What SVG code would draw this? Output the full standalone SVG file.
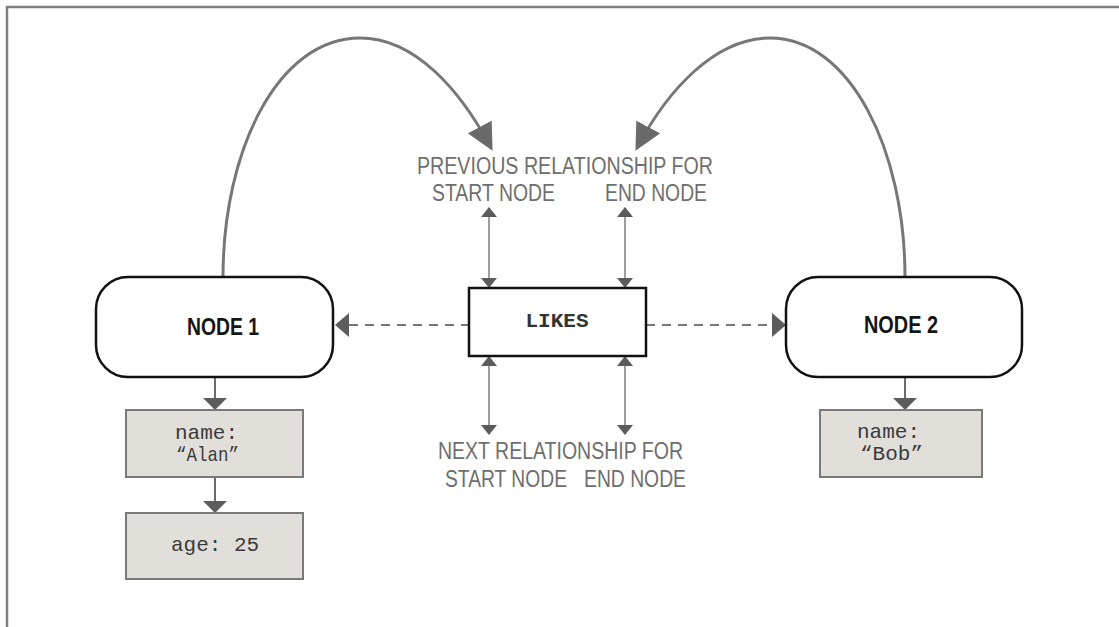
<svg xmlns="http://www.w3.org/2000/svg" width="1119" height="627" viewBox="0 0 1119 627">
<style>
.frame{fill:none;stroke:#808080;stroke-width:2.5}
.node{fill:#fff;stroke:#111;stroke-width:2.5}
.prop{fill:#e2dfdb;stroke:#7a7a7a;stroke-width:2}
.rel{fill:#fff;stroke:#111;stroke-width:2.5}
.ntext{font-family:"Liberation Sans",Arial,sans-serif;font-weight:bold;font-size:24px;fill:#151515}
.mono{font-family:"Liberation Mono","Courier New",monospace;font-size:21px;fill:#3a3a3a}
.likes{font-family:"Liberation Mono","Courier New",monospace;font-weight:bold;font-size:21px;fill:#333}
.label{font-family:"Liberation Sans",Arial,sans-serif;font-size:23px;fill:#6e6e6e}
.arc{fill:none;stroke:#777;stroke-width:3}
.solid{fill:none;stroke:#6a6a6a;stroke-width:2}
.thin{fill:none;stroke:#888;stroke-width:1.6}
.dash{fill:none;stroke:#777;stroke-width:2;stroke-dasharray:9 7}
.head{fill:#5c5c5c}
</style>
<defs>
<marker id="big" viewBox="0 0 10 10" refX="8" refY="5" markerWidth="9" markerHeight="9" markerUnits="strokeWidth" orient="auto">
<path d="M0,0 L10,5 L0,10 Z" fill="#6a6a6a"/>
</marker>
</defs>
<path class="frame" d="M7,627 L7,7 L1119,7"/>
<g id="connectors">
<path class="arc" d="M223,277 C223,150 278,38 360,38 C415,38 460,90 490,146" marker-end="url(#big)"/>
<path class="arc" d="M905,277 C905,150 850,38 770,38 C715,38 668,90 638,146" marker-end="url(#big)"/>
<line class="dash" x1="349" y1="325" x2="468" y2="325"/>
<path class="head" d="M335,325 L349,313 L349,337 Z"/>
<line class="dash" x1="646" y1="325" x2="772" y2="325"/>
<path class="head" d="M786,325 L772,313 L772,337 Z"/>
<line class="thin" x1="489" y1="216" x2="489" y2="280"/>
<path class="head" d="M489,207 L481,217 L497,217 Z"/>
<path class="head" d="M489,288 L481,278 L497,278 Z"/>
<line class="thin" x1="625" y1="216" x2="625" y2="280"/>
<path class="head" d="M625,207 L617,217 L633,217 Z"/>
<path class="head" d="M625,288 L617,278 L633,278 Z"/>
<line class="thin" x1="489" y1="364" x2="489" y2="426"/>
<path class="head" d="M489,356 L481,366 L497,366 Z"/>
<path class="head" d="M489,435 L481,425 L497,425 Z"/>
<line class="thin" x1="625" y1="364" x2="625" y2="426"/>
<path class="head" d="M625,356 L617,366 L633,366 Z"/>
<path class="head" d="M625,435 L617,425 L633,425 Z"/>
<line class="solid" x1="215" y1="377" x2="215" y2="400"/>
<path class="head" d="M215,410 L203,398 L227,398 Z"/>
<line class="solid" x1="215" y1="477" x2="215" y2="502"/>
<path class="head" d="M215,513 L203,501 L227,501 Z"/>
<line class="solid" x1="905" y1="377" x2="905" y2="400"/>
<path class="head" d="M905,410 L893,398 L917,398 Z"/>
</g>
<g id="node1">
<rect class="node" x="96" y="277" width="237" height="100" rx="32" ry="32"/>
<text class="ntext" x="187" y="335" textLength="72" lengthAdjust="spacingAndGlyphs">NODE 1</text>
</g>
<g id="node2">
<rect class="node" x="786" y="277" width="236" height="100" rx="32" ry="32"/>
<text class="ntext" x="864" y="333" textLength="74" lengthAdjust="spacingAndGlyphs">NODE 2</text>
</g>
<g id="likes">
<rect class="rel" x="469" y="288" width="177" height="68"/>
<text class="likes" x="557" y="327" text-anchor="middle">LIKES</text>
</g>
<g id="prop-alan">
<rect class="prop" x="126" y="410" width="177" height="67"/>
<text class="mono" x="175" y="439">name:</text>
<text class="mono" x="176" y="461" textLength="63" lengthAdjust="spacingAndGlyphs">“Alan”</text>
</g>
<g id="prop-age">
<rect class="prop" x="126" y="513" width="177" height="66"/>
<text class="mono" x="171" y="551">age: 25</text>
</g>
<g id="prop-bob">
<rect class="prop" x="820" y="410" width="162" height="67"/>
<text class="mono" x="857" y="438">name:</text>
<text class="mono" x="860" y="460">“Bob”</text>
</g>
<g id="labels">
<text class="label" x="417" y="174" textLength="296" lengthAdjust="spacingAndGlyphs">PREVIOUS RELATIONSHIP FOR</text>
<text class="label" x="432" y="201" textLength="123" lengthAdjust="spacingAndGlyphs">START NODE</text>
<text class="label" x="605" y="201" textLength="102" lengthAdjust="spacingAndGlyphs">END NODE</text>
<text class="label" x="438" y="459" textLength="245" lengthAdjust="spacingAndGlyphs">NEXT RELATIONSHIP FOR</text>
<text class="label" x="445" y="487" textLength="122" lengthAdjust="spacingAndGlyphs">START NODE</text>
<text class="label" x="584" y="487" textLength="102" lengthAdjust="spacingAndGlyphs">END NODE</text>
</g>
</svg>
